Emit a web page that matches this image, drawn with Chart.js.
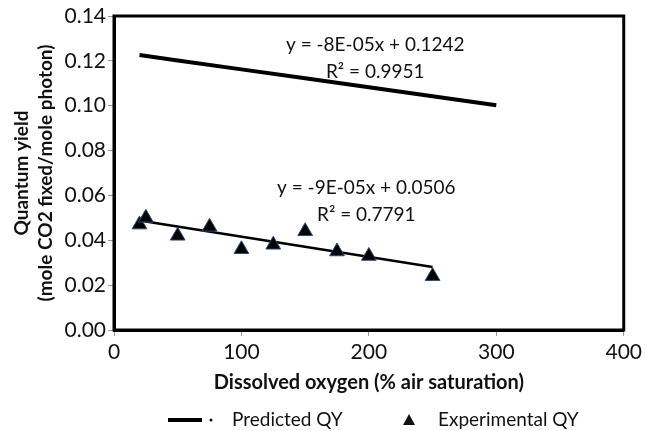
<!DOCTYPE html>
<html>
<head>
<meta charset="utf-8">
<script src="https://cdn.jsdelivr.net/npm/chart.js@4.4.0/dist/chart.umd.min.js"></script>
<style>
  html, body { margin: 0; padding: 0; background: #fff; }
  #wrap { width: 646px; height: 431px; }
</style>
</head>
<body>
<div id="wrap"><canvas id="chart" width="646" height="431"></canvas></div>
<script>
const predictedX = [20, 50, 100, 150, 200, 250, 300];
const predictedQY = [0.1226, 0.1202, 0.1162, 0.1122, 0.1082, 0.1042, 0.1002];

const experimentalX = [20, 25, 50, 75, 100, 125, 150, 175, 200, 250];
const experimentalQY = [0.047, 0.050, 0.042, 0.046, 0.036, 0.038, 0.044, 0.035, 0.033, 0.024];

const trendX = [20, 250];
const trendQY = [0.0488, 0.0281];

const xTicks = [0, 100, 200, 300, 400];
const yTicks = [0, 0.02, 0.04, 0.06, 0.08, 0.10, 0.12, 0.14];

const FONT = "Lato, 'Open Sans', sans-serif";

const toPoints = (xs, ys) => xs.map((x, i) => ({ x: x, y: ys[i] }));

const extras = {
    id: 'extras',
    afterDraw(chart) {
        const ctx = chart.ctx;
        const a = chart.chartArea;
        const xs = chart.scales.x, ys = chart.scales.y;
        ctx.save();
        // frame round the plot
        ctx.strokeStyle = '#000';
        ctx.lineWidth = 3;
        ctx.strokeRect(a.left, a.top, a.right - a.left, a.bottom - a.top);

        // trendline equations
        ctx.fillStyle = '#111';
        ctx.font = '19px ' + FONT;
        ctx.textAlign = 'center';
        ctx.textBaseline = 'middle';
        ctx.fillText('y = -8E-05x + 0.1242', xs.getPixelForValue(205), ys.getPixelForValue(0.127));
        ctx.fillText('R² = 0.9951', xs.getPixelForValue(205), ys.getPixelForValue(0.115));
        ctx.fillText('y = -9E-05x + 0.0506', xs.getPixelForValue(198), ys.getPixelForValue(0.0633));
        ctx.fillText('R² = 0.7791', xs.getPixelForValue(198), ys.getPixelForValue(0.0513));

        // legend
        const ly = 420;
        ctx.textAlign = 'left';
        ctx.lineWidth = 4;
        ctx.beginPath();
        ctx.moveTo(168, ly);
        ctx.lineTo(202, ly);
        ctx.stroke();
        ctx.beginPath();
        ctx.arc(211, ly, 1.5, 0, Math.PI * 2);
        ctx.fill();
        ctx.fillText('Predicted QY', 232, ly);
        ctx.beginPath();
        ctx.moveTo(409, ly - 6);
        ctx.lineTo(415, ly + 5);
        ctx.lineTo(403, ly + 5);
        ctx.closePath();
        ctx.fill();
        ctx.fillText('Experimental QY', 438, ly);
        ctx.restore();
    }
};

new Chart(document.getElementById('chart'), {
    type: 'scatter',
    data: {
        datasets: [
            {
                label: 'Predicted QY',
                data: toPoints(predictedX, predictedQY),
                showLine: true,
                borderColor: '#000',
                borderWidth: 4,
                pointRadius: 0
            },
            {
                label: 'Experimental QY',
                data: toPoints(experimentalX, experimentalQY),
                pointStyle: 'triangle',
                pointRadius: 8.5,
                backgroundColor: '#000',
                borderColor: '#2a4a78',
                borderWidth: 1
            },
            {
                label: 'Linear (Experimental QY)',
                data: toPoints(trendX, trendQY),
                showLine: true,
                borderColor: '#000',
                borderWidth: 2.5,
                pointRadius: 0
            }
        ]
    },
    options: {
        responsive: false,
        animation: false,
        layout: { padding: { top: 16, right: 16, left: 0, bottom: 34 } },
        plugins: {
            legend: { display: false },
            tooltip: { enabled: false }
        },
        scales: {
            x: {
                type: 'linear',
                min: 0,
                max: 400,
                afterBuildTicks: (s) => { s.ticks = xTicks.map(v => ({ value: v })); },
                afterFit: (s) => { s.height = 431 - 34 - 330; },
                ticks: { color: '#111', font: { size: 21, family: FONT }, padding: 4 },
                grid: { drawOnChartArea: false, tickLength: 6, tickColor: '#999' },
                border: { color: '#000', width: 3 },
                title: {
                    display: true,
                    text: 'Dissolved oxygen (% air saturation)',
                    color: '#111',
                    padding: { top: 0, bottom: 2 },
                    font: { size: 20, weight: 'bold', family: FONT }
                }
            },
            y: {
                min: 0,
                max: 0.14,
                afterBuildTicks: (s) => { s.ticks = yTicks.map(v => ({ value: v })); },
                afterFit: (s) => { s.width = 114; },
                ticks: {
                    color: '#111',
                    font: { size: 21, family: FONT },
                    padding: 2,
                    callback: (v) => v.toFixed(2)
                },
                grid: { drawOnChartArea: false, tickLength: 6, tickColor: '#999' },
                border: { color: '#000', width: 3 },
                title: {
                    display: true,
                    text: ['Quantum yield', '(mole CO2 fixed/mole photon)'],
                    color: '#111',
                    padding: { top: 10, bottom: 0 },
                    font: { size: 19, weight: 'bold', family: FONT, lineHeight: 1.25 }
                }
            }
        }
    },
    plugins: [extras]
});
</script>
</body>
</html>
